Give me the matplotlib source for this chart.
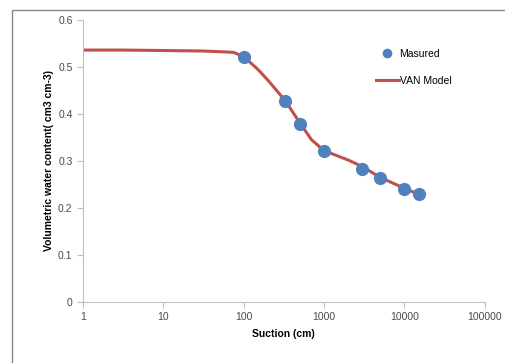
import matplotlib.pyplot as plt
from matplotlib.patches import Rectangle

# measured points
suction = [100, 330, 500, 1000, 3000, 5000, 10000, 15000]
theta = [0.522, 0.428, 0.379, 0.321, 0.284, 0.264, 0.241, 0.229]

# VAN model curve
model_h = [1, 3, 10, 30, 60, 75, 100, 150, 200, 330, 500, 700, 1000, 2000, 3000, 5000, 10000, 15000]
model_t = [0.536, 0.536, 0.535, 0.534, 0.532, 0.531, 0.522, 0.495, 0.472, 0.428, 0.381, 0.345, 0.322, 0.302, 0.288, 0.265, 0.242, 0.229]

plt.rcParams['font.family'] = ['Liberation Sans', 'DejaVu Sans']

fig = plt.figure(figsize=(5.06, 3.63), dpi=100)
ax = fig.add_axes([0.164, 0.168, 0.794, 0.777])

ax.plot(model_h, model_t, color='#C0504D', lw=2.2, label='VAN Model', zorder=2)
ax.plot(suction, theta, 'o', color='#4F81BD', ms=8.5, label='Masured', zorder=3)

ax.set_xscale('log')
ax.set_xlim(1, 100000)
ax.set_ylim(0, 0.6)
ax.set_xticks([1, 10, 100, 1000, 10000, 100000])
ax.set_xticklabels(['1', '10', '100', '1000', '10000', '100000'])
ax.minorticks_off()
ax.set_yticks([0, 0.1, 0.2, 0.3, 0.4, 0.5, 0.6])
ax.set_yticklabels(['0', '0.1', '0.2', '0.3', '0.4', '0.5', '0.6'])

for s in ['top', 'right']:
    ax.spines[s].set_visible(False)
for s in ['left', 'bottom']:
    ax.spines[s].set_color('#BFBFBF')
ax.tick_params(colors='#BFBFBF', labelcolor='#4a4a4a', labelsize=7.5, length=4)

ax.set_xlabel('Suction (cm)', fontsize=7.5, fontweight='bold', labelpad=5)
ax.set_ylabel('Volumetric water content( cm3 cm-3)', fontsize=7.5, fontweight='bold', labelpad=3)

handles, labels = ax.get_legend_handles_labels()
ax.legend(handles[::-1], labels[::-1], loc='upper left', bbox_to_anchor=(0.705, 0.93),
          frameon=False, fontsize=7.5, labelspacing=1.6, handlelength=2.2, handletextpad=0.1,
          markerscale=0.7)

fig.patches.append(Rectangle((12 / 506, -0.1), 1.2, (363 - 10) / 363 + 0.1,
                             transform=fig.transFigure, fill=False, ec='#888888', lw=1))

fig.savefig('out.png', dpi=100)
